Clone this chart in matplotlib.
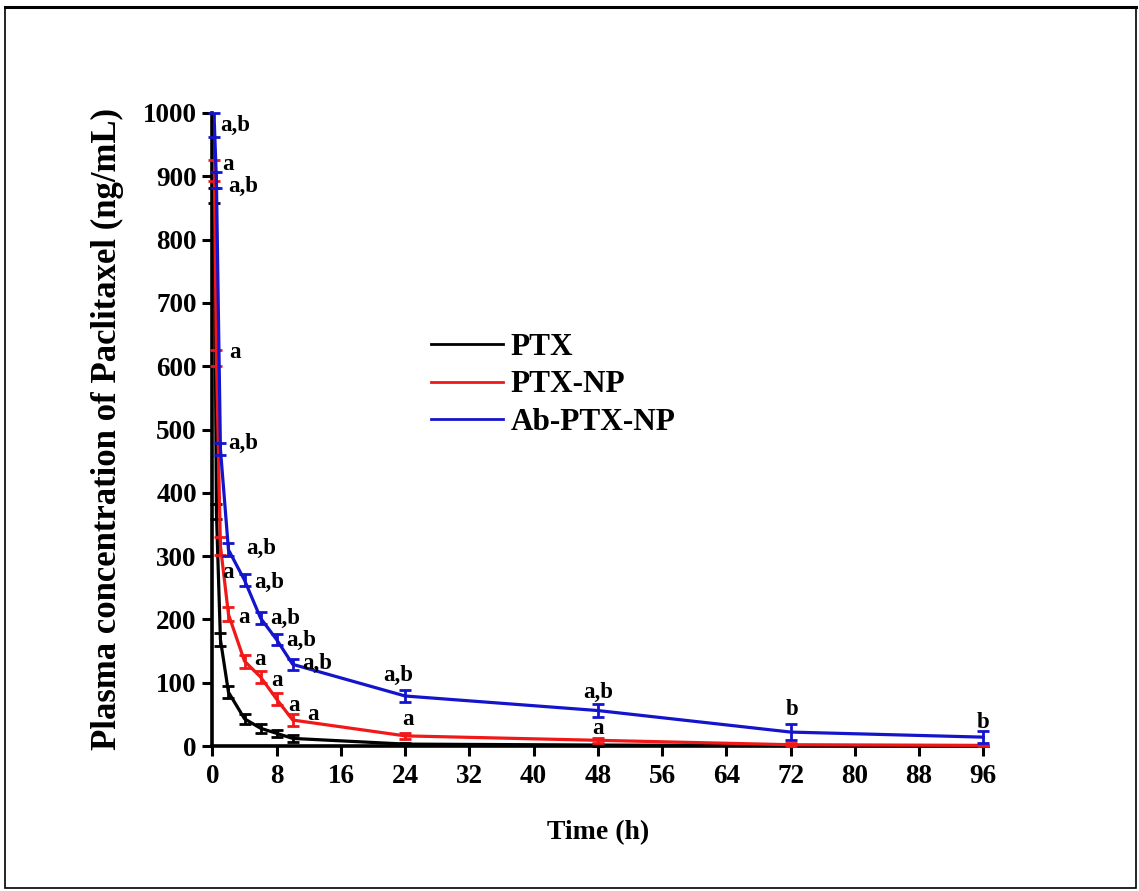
import matplotlib
matplotlib.use("Agg")
import matplotlib.pyplot as plt
from matplotlib.patches import Rectangle
from matplotlib.lines import Line2D

# Sampling times (h)
time_h = [0.25, 0.5, 1, 2, 4, 6, 8, 10, 24, 48, 72, 96]

# Plasma paclitaxel concentration (ng/mL), mean and SD
ptx_mean = [870, 370, 168, 85, 43, 28, 20, 12, 3, 1.5, 0.6, 0.3]
ptx_sd = [12, 12, 10, 9, 8, 7, 6, 6, 2, 1, 0.5, 0.3]

ptxnp_mean = [909, 613, 316, 208, 134, 109, 74, 41, 16, 9, 2, 1]
ptxnp_sd = [16, 13, 14, 11, 10, 9, 10, 9, 5, 4, 2, 1]

abnp_mean = [981, 894, 469, 310, 262, 202, 168, 129, 79, 56, 22, 14]
abnp_sd = [19, 13, 9, 10, 9, 9, 9, 9, 10, 10, 12, 10]

series_names = ["PTX", "PTX-NP", "Ab-PTX-NP"]

# Significance letters
ptxnp_sig = ["a", "a", "a", "a", "a", "a", "a", "a", "a", "a", "", ""]
abnp_sig = ["a,b"] * 10 + ["b", "b"]

x_ticks = list(range(0, 97, 8))
y_ticks = list(range(0, 1001, 100))

# Letter offsets from each point, in pixels (dx, dy)
ptxnp_off = [(8, 6), (13, 5), (2, -27), (10, -3), (10, 2), (11, -3), (12, -6),
             (15, 6), (3, 16), (0, 12), (0, 0), (0, 0)]
abnp_off = [(6, 0), (12, -6), (8, 6), (18, 1), (10, -2), (10, 0), (10, -1),
            (10, 1), (-7, 21), (0, 18), (2, 23), (0, 15)]

C_BLACK = "#000000"
C_RED = "#f01818"
C_BLUE = "#1414cc"

plt.rcParams["font.family"] = ["Liberation Serif", "DejaVu Serif"]
plt.rcParams["font.weight"] = "bold"

W, H = 1139, 891
fig = plt.figure(figsize=(W / 100, H / 100), dpi=100)
ax = fig.add_axes([212.4 / W, 1 - 746 / H, (983.3 - 212.4) / W, (746 - 113) / H])

PX = 0.72  # points per pixel at 100 dpi

def draw(mean, sd, color, z):
    ax.errorbar(time_h, mean, yerr=sd, color=color, lw=2.3, elinewidth=2.0,
                capsize=4.6, capthick=2.0, zorder=z, clip_on=False)

draw(ptx_mean, ptx_sd, C_BLACK, 3)
draw(ptxnp_mean, ptxnp_sd, C_RED, 4)
draw(abnp_mean, abnp_sd, C_BLUE, 5)

def letters(mean, sig, offs):
    for t, v, s, (dx, dy) in zip(time_h, mean, sig, offs):
        if not s:
            continue
        ha = "center" if t >= 24 else "left"
        ax.annotate(s, xy=(t, v), xytext=(dx * PX, dy * PX),
                    textcoords="offset points", ha=ha, va="center",
                    fontsize=16.5, fontweight="bold", zorder=6,
                    annotation_clip=False)

letters(ptxnp_mean, ptxnp_sig, ptxnp_off)
letters(abnp_mean, abnp_sig, abnp_off)

ax.set_xlim(0, 96)
ax.set_ylim(0, 1000)
ax.set_xticks(x_ticks)
ax.set_yticks(y_ticks)
ax.tick_params(direction="out", length=7.2, width=2.2, labelsize=19.5, pad=4)
ax.tick_params(axis="x", pad=6)
for lab in ax.get_xticklabels() + ax.get_yticklabels():
    lab.set_fontweight("bold")

for side in ("top", "right"):
    ax.spines[side].set_visible(False)
for side in ("left", "bottom"):
    ax.spines[side].set_linewidth(2.6)

ax.set_xlabel("Time (h)", fontsize=20, fontweight="bold", labelpad=22)
ax.set_ylabel("Plasma concentration of Paclitaxel (ng/mL)", fontsize=25,
              fontweight="bold")
ax.yaxis.set_label_coords((124 - 212.4) / (983.3 - 212.4), 0.5)

handles = [Line2D([], [], color=c, lw=2.0) for c in (C_BLACK, C_RED, C_BLUE)]
ax.legend(handles, series_names, loc="upper left", frameon=False,
          bbox_to_anchor=(431 / W, 1 - 333 / H), bbox_transform=fig.transFigure,
          borderpad=0, borderaxespad=0, handlelength=2.3, handletextpad=0.25,
          labelspacing=0.27, prop={"size": 22.5, "weight": "bold"})

# Outer frame
fig.patches.append(Rectangle((5 / W, 1 - 888 / H), 1131 / W, 881 / H,
                             transform=fig.transFigure, fill=False,
                             edgecolor="black", lw=1.2))
fig.lines.append(Line2D([5 / W, 1136 / W], [1 - 7 / H, 1 - 7 / H],
                        transform=fig.transFigure, color="black", lw=2.2))

fig.savefig("out.png", dpi=100)
